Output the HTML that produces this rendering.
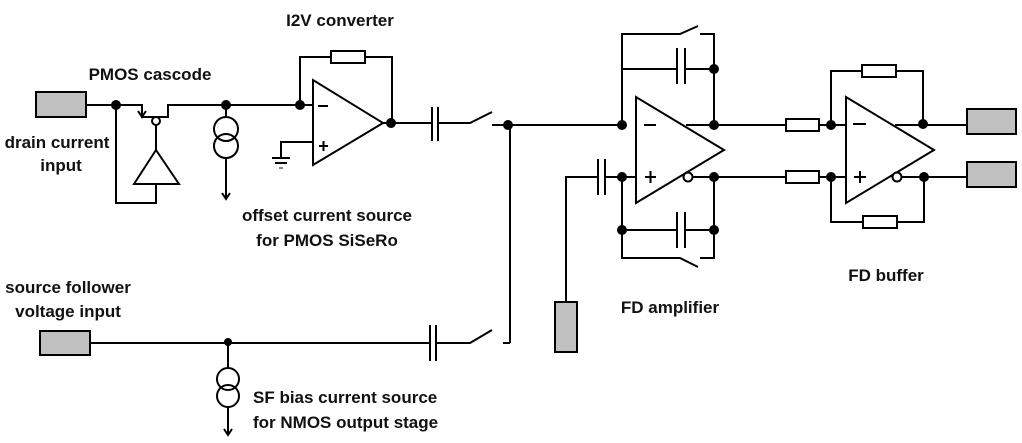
<!DOCTYPE html>
<html><head><style>
html,body{margin:0;padding:0;background:#fff;}
svg{display:block;}
text{font-family:"Liberation Sans",Arial,sans-serif;font-weight:bold;font-size:17px;fill:#111;}
</style></head><body>
<svg width="1022" height="443" viewBox="0 0 1022 443" xmlns="http://www.w3.org/2000/svg">
<g stroke="#000" stroke-width="2" fill="none">
<rect x="36" y="92" width="50" height="25" fill="#c0c0c0"/>
<polyline points="86,105 142,105 142,117 168,117 168,105 313,105"/>
<path d="M138,111 L142,117 L146,111" />
<circle cx="156" cy="121" r="4" fill="#fff"/>
<line x1="156" y1="125" x2="156" y2="150"/>
<polygon points="156,150 134,184 179,184"/>
<polyline points="156,184 156,203 116,203 116,105"/>
<line x1="226" y1="105" x2="226" y2="117"/>
<circle cx="226" cy="129" r="12"/>
<circle cx="226" cy="146" r="12"/>
<line x1="226" y1="158" x2="226" y2="199"/>
<path d="M222,193 L226,199 L230,193"/>
<polygon points="313,80 313,165 383,123"/>
<line x1="318" y1="106" x2="328" y2="106"/>
<line x1="319" y1="146" x2="328" y2="146"/><line x1="323.5" y1="141" x2="323.5" y2="151"/>
<polyline points="313,142 281,142 281,158"/>
<line x1="272" y1="158" x2="290" y2="158"/>
<line x1="275" y1="163" x2="287" y2="163"/>
<line x1="279" y1="168" x2="283" y2="168" stroke="#888"/>
<polyline points="300,105 300,57 331,57"/>
<rect x="331" y="51" width="34" height="12"/>
<polyline points="365,57 392,57 392,123"/>
<line x1="383" y1="123" x2="432" y2="123"/>
<line x1="432" y1="107" x2="432" y2="141"/>
<line x1="438" y1="107" x2="438" y2="141"/>
<polyline points="438,123 470,123 492,112"/>
<polyline points="492,125 622,125"/>
<line x1="510" y1="125" x2="510" y2="343"/>
<line x1="510" y1="343" x2="503" y2="343"/>
<rect x="40" y="331" width="50" height="24" fill="#c0c0c0"/>
<line x1="90" y1="343" x2="430" y2="343"/>
<line x1="430" y1="325" x2="430" y2="361"/>
<line x1="436" y1="325" x2="436" y2="361"/>
<polyline points="436,343 470,343 492,330"/>
<line x1="228" y1="343" x2="228" y2="367"/>
<circle cx="228" cy="379" r="11"/>
<circle cx="228" cy="396" r="11"/>
<line x1="228" y1="407" x2="228" y2="435"/>
<path d="M224,429 L228,435 L232,429"/>
<rect x="555" y="302" width="22" height="50" fill="#c0c0c0"/>
<polyline points="566,302 566,177 598,177"/>
<line x1="598" y1="159" x2="598" y2="195"/>
<line x1="605" y1="159" x2="605" y2="195"/>
<line x1="605" y1="177" x2="636" y2="177"/>
<polygon points="636,97 636,203 724,150"/>
<line x1="644" y1="125" x2="656" y2="125"/>
<line x1="645" y1="177" x2="656" y2="177"/><line x1="650.5" y1="171" x2="650.5" y2="183"/>
<polyline points="622,125 622,34 680,34 698,26"/>
<polyline points="700,34 714,34 714,125"/>
<line x1="622" y1="69" x2="677" y2="69"/>
<line x1="677" y1="48" x2="677" y2="84"/>
<line x1="685" y1="48" x2="685" y2="84"/>
<line x1="685" y1="69" x2="714" y2="69"/>
<line x1="686" y1="125" x2="786" y2="125"/>
<circle cx="688" cy="177" r="4.5" fill="#fff"/>
<line x1="692.5" y1="177" x2="786" y2="177"/>
<polyline points="622,177 622,258 680,258 698,267"/>
<polyline points="700,258 714,258 714,177"/>
<line x1="622" y1="230" x2="677" y2="230"/>
<line x1="677" y1="212" x2="677" y2="248"/>
<line x1="685" y1="212" x2="685" y2="248"/>
<line x1="685" y1="230" x2="714" y2="230"/>
<rect x="786" y="119" width="33" height="12"/>
<rect x="786" y="171" width="33" height="12"/>
<line x1="819" y1="125" x2="846" y2="125"/>
<line x1="819" y1="177" x2="846" y2="177"/>
<polygon points="846,97 846,203 934,150"/>
<line x1="853" y1="124" x2="866" y2="124"/>
<line x1="854" y1="177" x2="866" y2="177"/><line x1="860" y1="171" x2="860" y2="183"/>
<polyline points="831,125 831,71 862,71"/>
<rect x="862" y="65" width="34" height="12"/>
<polyline points="896,71 923,71 923,125"/>
<line x1="895" y1="125" x2="967" y2="125"/>
<circle cx="897" cy="177" r="4.5" fill="#fff"/>
<line x1="901.5" y1="177" x2="967" y2="177"/>
<polyline points="831,177 831,222 863,222"/>
<rect x="863" y="216" width="34" height="12"/>
<polyline points="897,222 924,222 924,177"/>
<rect x="967" y="109" width="49" height="25" fill="#c0c0c0"/>
<rect x="967" y="162" width="49" height="25" fill="#c0c0c0"/>
</g>
<g fill="#000">
<circle cx="116" cy="105" r="5"/><circle cx="226" cy="105" r="5"/><circle cx="300" cy="105" r="5"/>
<circle cx="391" cy="123" r="5"/><circle cx="508" cy="125" r="5"/><circle cx="228" cy="342" r="4"/>
<circle cx="622" cy="125" r="5"/><circle cx="714" cy="125" r="5"/><circle cx="714" cy="69" r="5"/>
<circle cx="622" cy="177" r="5"/><circle cx="714" cy="177" r="5"/>
<circle cx="622" cy="230" r="5"/><circle cx="714" cy="230" r="5"/>
<circle cx="831" cy="125" r="5"/><circle cx="831" cy="177" r="5"/>
<circle cx="923" cy="124" r="5"/><circle cx="924" cy="177" r="5"/>
</g>
<text x="340" y="26" text-anchor="middle">I2V converter</text>
<text x="150" y="80" text-anchor="middle">PMOS cascode</text>
<text x="57" y="148" text-anchor="middle">drain current</text>
<text x="61" y="171" text-anchor="middle">input</text>
<text x="327" y="221" text-anchor="middle">offset current source</text>
<text x="327" y="246" text-anchor="middle">for PMOS SiSeRo</text>
<text x="68" y="293" text-anchor="middle">source follower</text>
<text x="68" y="317" text-anchor="middle">voltage input</text>
<text x="253" y="403">SF bias current source</text>
<text x="253" y="428">for NMOS output stage</text>
<text x="670" y="313" text-anchor="middle">FD amplifier</text>
<text x="886" y="281" text-anchor="middle">FD buffer</text>
</svg>
</body></html>
